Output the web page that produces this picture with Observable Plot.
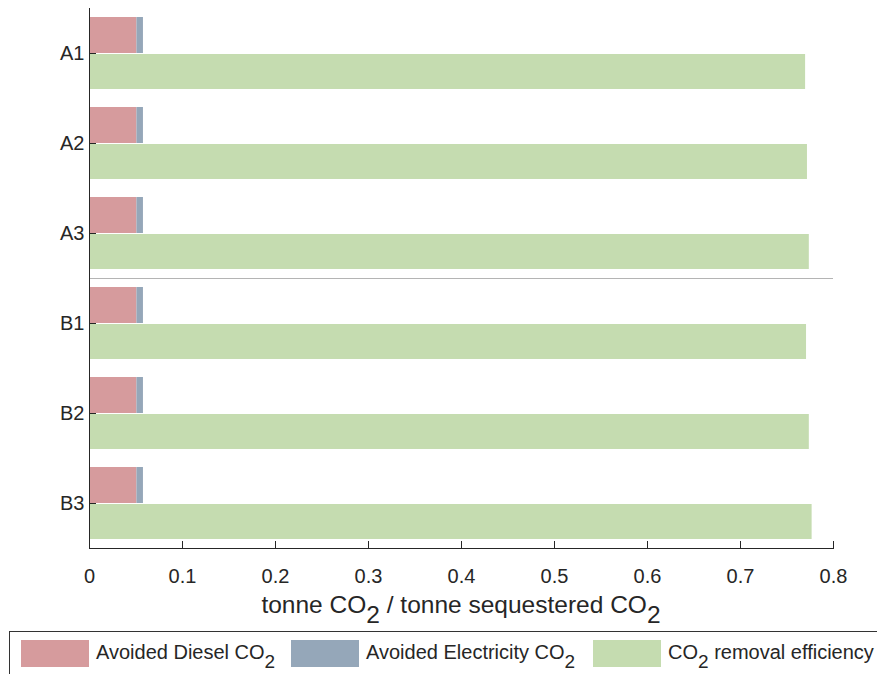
<!DOCTYPE html>
<html><head><meta charset="utf-8">
<script src="https://cdn.jsdelivr.net/npm/d3@7"></script>
<script src="https://cdn.jsdelivr.net/npm/@observablehq/plot@0.6"></script>
<style>
body{margin:0;background:#fff;font-family:"Liberation Sans",Arial,sans-serif;color:#262626}
#wrap{position:relative;width:877px;height:674px;overflow:hidden}
#chart{position:absolute;left:0;top:0}
#xlabel{position:absolute;left:89px;width:744px;top:593px;text-align:center;font-size:24.5px;line-height:24px;white-space:nowrap}
sub{font-size:1em;vertical-align:-0.4em;line-height:0}
#legend{position:absolute;left:9px;top:631px;width:900px;height:60px;border:1px solid #333;box-sizing:border-box}
.item{position:absolute;top:8px;height:27px;display:flex;align-items:center}
.sw{display:inline-block;width:68px;height:27px;margin-right:7px}
.lt{font-size:20px;line-height:20px;white-space:nowrap;position:relative;top:-2px}
.lt sub{font-size:0.95em;vertical-align:-0.45em}
</style></head><body>
<div id="wrap"><div id="chart"></div>
<div id="xlabel">tonne CO<sub>2</sub> / tonne sequestered CO<sub>2</sub></div>
<div id="legend"></div></div>
<script>
const categories = ["A1","A2","A3","B1","B2","B3"];
const diesel = [0.051,0.051,0.051,0.051,0.051,0.051];
const electricity = [0.007,0.007,0.007,0.007,0.007,0.007];
const removal = [0.770,0.772,0.774,0.771,0.774,0.777];
const seriesNames = ["Avoided Diesel CO2","Avoided Electricity CO2","CO2 removal efficiency"];
const legendHtml = ["Avoided Diesel CO<sub>2</sub>","Avoided Electricity CO<sub>2</sub>","CO<sub>2</sub> removal efficiency"];
const colors = ["#d69b9d","#95a7b9","#c5dcb0"];
const xTicks = [0,0.1,0.2,0.3,0.4,0.5,0.6,0.7,0.8];

const stacked = [];
categories.forEach((c,i)=>{
  stacked.push({cat:c, series:seriesNames[0], value:diesel[i]});
  stacked.push({cat:c, series:seriesNames[1], value:electricity[i]});
});
const greenRows = categories.map((c,i)=>({cat:c, series:seriesNames[2], value:removal[i]}));

const chart = Plot.plot({
  width: 877, height: 592,
  marginLeft: 89, marginRight: 44, marginTop: 8, marginBottom: 44,
  style: {fontFamily: "Liberation Sans, Arial, sans-serif", fontSize: "20px", color: "#262626", background: "white", overflow: "visible"},
  x: {domain: [0, 0.8], label: null},
  y: {domain: categories, padding: 0, label: null},
  color: {domain: seriesNames, range: colors},
  marks: [
    Plot.barX(stacked, Plot.stackX({x: "value", y: "cat", fill: "series", order: null, insetTop: 9, insetBottom: 45})),
    Plot.barX(greenRows, {x: "value", y: "cat", fill: "series", insetTop: 46, insetBottom: 9}),
    Plot.ruleY(["A3"], {dy: 45, stroke: "#b4b4b4"}),
    Plot.ruleX([0], {stroke: "#262626"}),
    Plot.frame({anchor: "bottom", stroke: "#262626"}),
    Plot.axisX({ticks: xTicks, tickSize: -7, tickPadding: 27, tickFormat: d => String(d), fontSize: 20, label: null, stroke: "#262626"}),
    Plot.axisY({tickSize: -7, tickPadding: 12, fontSize: 20, label: null, stroke: "#262626"})
  ]
});
document.getElementById("chart").appendChild(chart);

const lefts = [11, 281, 583];
const legend = document.getElementById("legend");
legendHtml.forEach((h,i)=>{
  const d = document.createElement("div");
  d.className = "item";
  d.style.left = lefts[i] + "px";
  d.innerHTML = `<span class="sw" style="background:${colors[i]}"></span><span class="lt">${h}</span>`;
  legend.appendChild(d);
});
</script>
</body></html>
